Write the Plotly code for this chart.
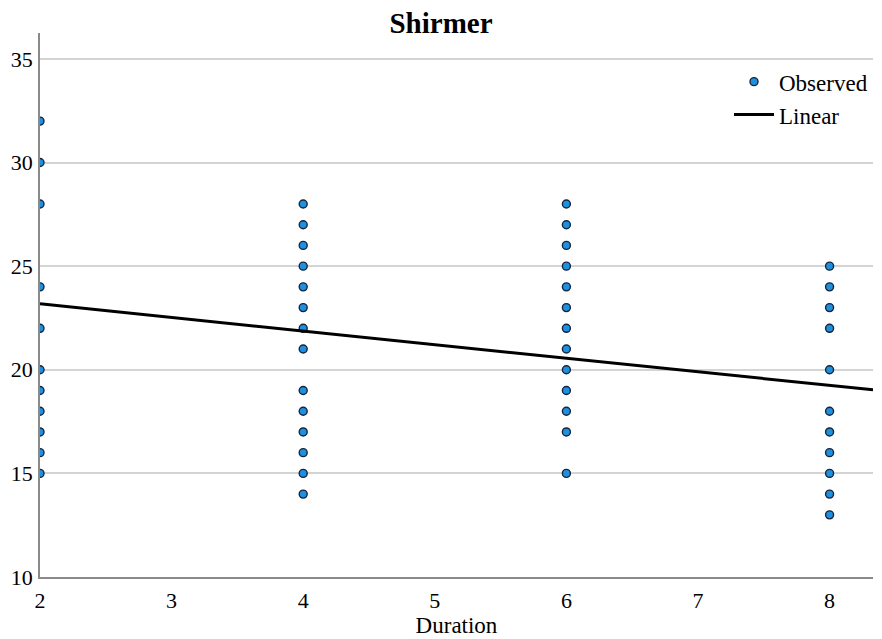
import plotly.graph_objects as go

# Observed data (Duration vs Shirmer)
dur_2 = [32, 30, 28, 24, 22, 20, 19, 18, 17, 16, 15]
dur_4 = [28, 27, 26, 25, 24, 23, 22, 21, 19, 18, 17, 16, 15, 14]
dur_6 = [28, 27, 26, 25, 24, 23, 22, 21, 20, 19, 18, 17, 15]
dur_8 = [25, 24, 23, 22, 20, 18, 17, 16, 15, 14, 13]
durations = [2, 4, 6, 8]

# Linear fit line
line_x = [2, 8.33]
line_y = [23.18, 19.03]

x_ticks = [2, 3, 4, 5, 6, 7, 8]
y_ticks = [10, 15, 20, 25, 30, 35]

xs, ys = [], []
for d, vals in zip(durations, [dur_2, dur_4, dur_6, dur_8]):
    xs += [d] * len(vals)
    ys += vals

FONT = "Liberation Serif"
fig = go.Figure()
fig.add_trace(go.Scatter(
    x=xs, y=ys, mode="markers", name="Observed",
    marker=dict(size=8, color="#1f8fe0", line=dict(color="#15263a", width=1.4)),
    cliponaxis=True,
))
fig.add_trace(go.Scatter(
    x=line_x, y=line_y, mode="lines", name="Linear",
    line=dict(color="black", width=3),
))

fig.update_layout(
    width=882, height=639,
    margin=dict(l=40, r=9, t=33, b=62),
    paper_bgcolor="white", plot_bgcolor="white",
    font=dict(family=FONT, size=22, color="black"),
    title=dict(text="<b>Shirmer</b>", x=0.5, xanchor="center", y=0.965, yanchor="middle",
               font=dict(family=FONT, size=29, color="black")),
    showlegend=True,
    legend=dict(x=1.0, y=0.95, xanchor="right", yanchor="top",
                bgcolor="rgba(0,0,0,0)", font=dict(family=FONT, size=23),
                tracegroupgap=0, itemwidth=40),
)
fig.update_xaxes(
    range=[2, 8.33], tickvals=x_ticks, showgrid=False, zeroline=False,
    showline=True, linecolor="#8a8a8a", linewidth=1.5, ticks="",
    title=dict(text="Duration", font=dict(family=FONT, size=23), standoff=0),
    tickfont=dict(family=FONT, size=22), ticklabelstandoff=3,
)
fig.update_yaxes(
    range=[10, 36.25], tickvals=y_ticks, showgrid=True, gridcolor="#d4d4d4", gridwidth=1.5,
    zeroline=False, showline=True, linecolor="#8a8a8a", linewidth=1.5, ticks="",
    tickfont=dict(family=FONT, size=22), ticklabelstandoff=1,
)

fig.write_html("out.html")
